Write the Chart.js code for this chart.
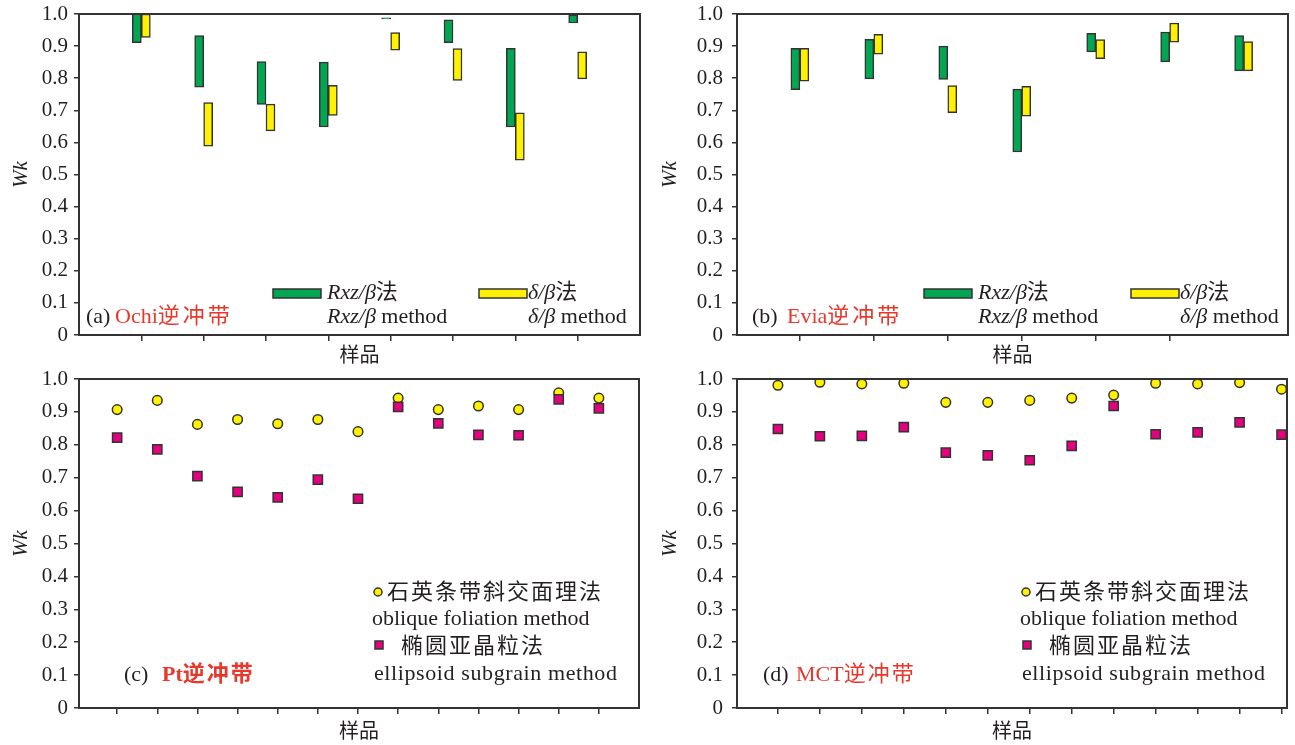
<!DOCTYPE html>
<html>
<head>
<meta charset="utf-8">
<title>Wk</title>
<script src="https://cdn.jsdelivr.net/npm/chart.js@4.4.0/dist/chart.umd.min.js"></script>
<style>
    html, body { margin: 0; padding: 0; background: #fff; }
    #wrap { position: relative; width: 1295px; height: 745px; overflow: hidden; }
    #wrap canvas { position: absolute; }
</style>
</head>
<body>
<div id="wrap">
    <canvas id="chartA" width="647" height="372" style="left:0;top:0;"></canvas>
    <canvas id="chartB" width="648" height="372" style="left:647px;top:0;"></canvas>
    <canvas id="chartC" width="647" height="385" style="left:0;top:360px;"></canvas>
    <canvas id="chartD" width="648" height="385" style="left:647px;top:360px;"></canvas>
</div>
<script>
// (a) Ochi thrust: Wk ranges per sample
const ochiRxzLow    = [0.911, 0.772, 0.718, 0.648, 0.985, 0.911, 0.648, 0.972];
const ochiRxzHigh   = [1.000, 0.933, 0.852, 0.850, 0.988, 0.982, 0.893, 0.997];
const ochiDeltaLow  = [0.927, 0.588, 0.636, 0.684, 0.887, 0.793, 0.545, 0.798];
const ochiDeltaHigh = [1.000, 0.724, 0.719, 0.778, 0.942, 0.892, 0.692, 0.882];
const ochiTicks = [0, 1, 2, 3, 4, 5, 6, 7];

// (b) Evia thrust
const eviaRxzLow    = [0.764, 0.798, 0.796, 0.570, 0.882, 0.851, 0.823];
const eviaRxzHigh   = [0.893, 0.921, 0.900, 0.766, 0.940, 0.944, 0.933];
const eviaDeltaLow  = [0.791, 0.875, 0.693, 0.682, 0.861, 0.912, 0.823];
const eviaDeltaHigh = [0.893, 0.937, 0.777, 0.775, 0.920, 0.972, 0.914];
const eviaTicks = [0, 1, 2, 3, 4, 5];

// (c) Pt thrust: single values per sample
const ptOblique  = [0.907, 0.935, 0.862, 0.877, 0.864, 0.877, 0.840, 0.942, 0.907, 0.918, 0.907, 0.958, 0.942];
const ptSubgrain = [0.822, 0.786, 0.705, 0.657, 0.640, 0.694, 0.636, 0.915, 0.865, 0.830, 0.829, 0.938, 0.911];
const ptTicks = [0, 1, 2, 3, 4, 5, 6, 7, 8, 9, 10, 11, 12];

// (d) MCT thrust
const mctOblique  = [0.981, 0.990, 0.985, 0.987, 0.929, 0.929, 0.935, 0.942, 0.951, 0.987, 0.985, 0.989, 0.969];
const mctSubgrain = [0.848, 0.826, 0.827, 0.854, 0.776, 0.768, 0.753, 0.797, 0.918, 0.832, 0.838, 0.868, 0.831];
const mctTicks = [0, 1, 2, 3, 4, 5, 6, 7, 8, 9, 10, 11, 12];

const INK = '#231f20';
const RED = '#e8382b';
const GREEN = '#00a651';
const YELLOW = '#fff100';
const MAGENTA = '#e4007f';
const EDGE = '#333333';
const SERIF = '"Liberation Serif", "Noto Sans CJK SC", serif';

Chart.defaults.font.family = SERIF;

// box around the plot area
const framePlugin = {
    id: 'frame',
    afterDatasetsDraw(chart) {
        const { ctx, chartArea: a } = chart;
        ctx.save();
        ctx.strokeStyle = EDGE;
        ctx.lineWidth = 2;
        ctx.strokeRect(a.left, a.top, a.right - a.left, a.bottom - a.top);
        ctx.restore();
    }
};

function drawRuns(ctx, runs, x, y) {
    let cx = x;
    runs.forEach(r => {
        ctx.font = (r.italic ? 'italic ' : '') + (r.bold ? 'bold ' : '') + (r.size || 22) + 'px ' + SERIF;
        ctx.letterSpacing = (r.spacing || 0) + 'px';
        ctx.fillStyle = r.color || INK;
        ctx.fillText(r.text, cx, y);
        cx += ctx.measureText(r.text).width;
    });
    ctx.letterSpacing = '0px';
}

// legend keys + panel tags, laid out like the original figure
function notesPlugin(cfg) {
    return {
        id: 'notes',
        afterDraw(chart) {
            const ctx = chart.ctx;
            ctx.save();
            ctx.textBaseline = 'middle';
            ctx.textAlign = 'left';
            ctx.lineWidth = 1.5;
            ctx.strokeStyle = EDGE;
            cfg.keys.forEach(k => {
                const ds = chart.data.datasets[k.dataset];
                ctx.fillStyle = ds.backgroundColor;
                if (k.kind === 'circle') {
                    ctx.beginPath();
                    ctx.arc(k.x, k.y, k.r, 0, Math.PI * 2);
                    ctx.fill();
                    ctx.stroke();
                } else {
                    ctx.fillRect(k.x, k.y, k.w, k.h);
                    ctx.strokeRect(k.x, k.y, k.w, k.h);
                }
            });
            cfg.texts.forEach(t => drawRuns(ctx, t.runs, t.x, t.y));
            ctx.restore();
        }
    };
}

function yAxis(width, titlePad, labelPad) {
    return {
        type: 'linear',
        min: 0,
        max: 1,
        afterFit: s => {
            s.width = width;
            // keep the plot box where the layout padding puts it
            s.paddingTop = 0;
            s.paddingBottom = 0;
        },
        border: { display: false },
        grid: { display: true, drawOnChartArea: false, drawTicks: true, tickLength: 5, color: EDGE, lineWidth: 1.5 },
        ticks: {
            stepSize: 0.1,
            padding: labelPad,
            color: INK,
            font: { family: SERIF, size: 21 },
            callback: v => Math.abs(v) < 1e-9 ? '0' : Number(v).toFixed(1)
        },
        title: {
            display: true, text: 'Wk', color: INK,
            font: { family: SERIF, size: 21, style: 'italic' },
            padding: { top: titlePad, bottom: 0 }
        }
    };
}

function xAxis(min, max, tickValues, titlePad) {
    return {
        type: 'linear',
        min: min,
        max: max,
        offset: false,
        afterFit: s => { s.height = 37; },
        afterBuildTicks: s => { s.ticks = tickValues.map(v => ({ value: v })); },
        border: { display: false },
        grid: { display: true, offset: false, drawOnChartArea: false, drawTicks: true, tickLength: 6, color: EDGE, lineWidth: 1.5 },
        ticks: { display: false },
        title: {
            display: true, text: '样品', color: INK,
            font: { family: SERIF, size: 20 },
            padding: { top: 0, bottom: titlePad }
        }
    };
}

function floatBars(low, high) {
    return low.map((lo, i) => ({ x: i, y: [lo, high[i]] }));
}

function barSet(label, low, high, color) {
    return {
        label: label,
        data: floatBars(low, high),
        backgroundColor: color,
        borderColor: EDGE,
        borderWidth: 1.5,
        borderSkipped: false,
        barThickness: 9
    };
}

function pointSet(label, values, style, radius, color, order) {
    return {
        label: label,
        data: values.map((v, i) => ({ x: i, y: v })),
        pointStyle: style,
        pointRadius: radius,
        backgroundColor: color,
        borderColor: EDGE,
        borderWidth: 1.5,
        showLine: false,
        order: order
    };
}

function baseOptions(padTop, yScale, xScale) {
    return {
        responsive: false,
        animation: false,
        events: [],
        layout: { padding: { top: padTop, right: 7, left: 0, bottom: 0 } },
        plugins: { legend: { display: false }, tooltip: { enabled: false } },
        scales: { x: xScale, y: yScale }
    };
}

function barNotes(tag, name, sw1, sw2) {
    return {
        keys: [
            { dataset: 0, kind: 'bar', x: sw1, y: 289, w: 48, h: 9 },
            { dataset: 1, kind: 'bar', x: sw2, y: 289, w: 48, h: 9 }
        ],
        texts: [
            { x: sw1 + 54, y: 293, runs: [{ text: 'Rxz/β', italic: true }, { text: '法' }] },
            { x: sw1 + 54, y: 317, runs: [{ text: 'Rxz/β', italic: true }, { text: ' method' }] },
            { x: sw2 + 49, y: 293, runs: [{ text: 'δ/β', italic: true }, { text: '法' }] },
            { x: sw2 + 49, y: 317, runs: [{ text: 'δ/β', italic: true }, { text: ' method' }] },
            { x: tag.x, y: 317, runs: [{ text: tag.text }] },
            { x: name.x, y: 317, runs: [{ text: name.latin, color: RED }, { text: '逆冲带', color: RED, spacing: 3 }] }
        ]
    };
}

// y values here are local to the lower canvases (which start at 360)
function pointNotes(tag, name, left, bold) {
    return {
        keys: [
            { dataset: 1, kind: 'circle', x: left + 5, y: 232, r: 4 },
            { dataset: 0, kind: 'rect', x: left + 2, y: 281, w: 8, h: 8 }
        ],
        texts: [
            { x: left + 14, y: 233, runs: [{ text: '石英条带斜交面理法', spacing: 2 }] },
            { x: left - 1, y: 259, runs: [{ text: 'oblique foliation method' }] },
            { x: left + 28, y: 287, runs: [{ text: '椭圆亚晶粒法', spacing: 2 }] },
            { x: left + 1, y: 314, runs: [{ text: 'ellipsoid subgrain method', spacing: 0.6 }] },
            { x: tag.x, y: 315, runs: [{ text: tag.text }] },
            { x: name.x, y: 315, runs: [{ text: name.latin, color: RED, bold: bold }, { text: '逆冲带', color: RED, bold: bold, spacing: 2 }] }
        ]
    };
}

function initializeOchiChart() {
    const el = document.getElementById('chartA');
    new Chart(el.getContext('2d'), {
        type: 'bar',
        data: {
            datasets: [
                barSet('Rxz/β法', ochiRxzLow, ochiRxzHigh, GREEN),
                barSet('δ/β法', ochiDeltaLow, ochiDeltaHigh, YELLOW)
            ]
        },
        options: baseOptions(14, yAxis(79, 9, 6), xAxis(-1, 8, ochiTicks, 3)),
        plugins: [framePlugin, notesPlugin(barNotes({ x: 86, text: '(a)' }, { x: 115, latin: 'Ochi' }, 273, 479))]
    });
}

function initializeEviaChart() {
    const el = document.getElementById('chartB');
    new Chart(el.getContext('2d'), {
        type: 'bar',
        data: {
            datasets: [
                barSet('Rxz/β法', eviaRxzLow, eviaRxzHigh, GREEN),
                barSet('δ/β法', eviaDeltaLow, eviaDeltaHigh, YELLOW)
            ]
        },
        options: baseOptions(14, yAxis(90, 11, 9), xAxis(-0.85, 6.6, eviaTicks, 3)),
        plugins: [framePlugin, notesPlugin(barNotes({ x: 105, text: '(b)' }, { x: 140, latin: 'Evia' }, 277, 484))]
    });
}

function initializePtChart() {
    const el = document.getElementById('chartC');
    new Chart(el.getContext('2d'), {
        type: 'scatter',
        data: {
            datasets: [
                pointSet('椭圆亚晶粒法', ptSubgrain, 'rect', 6.5, MAGENTA, 0),
                pointSet('石英条带斜交面理法', ptOblique, 'circle', 4.8, YELLOW, 1)
            ]
        },
        options: baseOptions(19, yAxis(79, 9, 6), xAxis(-0.95, 13, ptTicks, 0)),
        plugins: [framePlugin, notesPlugin(pointNotes({ x: 124, text: '(c)' }, { x: 162, latin: 'Pt' }, 373, true))]
    });
}

function initializeMctChart() {
    const el = document.getElementById('chartD');
    new Chart(el.getContext('2d'), {
        type: 'scatter',
        data: {
            datasets: [
                pointSet('椭圆亚晶粒法', mctSubgrain, 'rect', 6.5, MAGENTA, 0),
                pointSet('石英条带斜交面理法', mctOblique, 'circle', 4.8, YELLOW, 1)
            ]
        },
        options: baseOptions(19, yAxis(90, 11, 9), xAxis(-0.975, 12.13, mctTicks, 0)),
        plugins: [framePlugin, notesPlugin(pointNotes({ x: 116, text: '(d)' }, { x: 149, latin: 'MCT' }, 374, false))]
    });
}

initializeOchiChart();
initializeEviaChart();
initializePtChart();
initializeMctChart();
</script>
</body>
</html>
